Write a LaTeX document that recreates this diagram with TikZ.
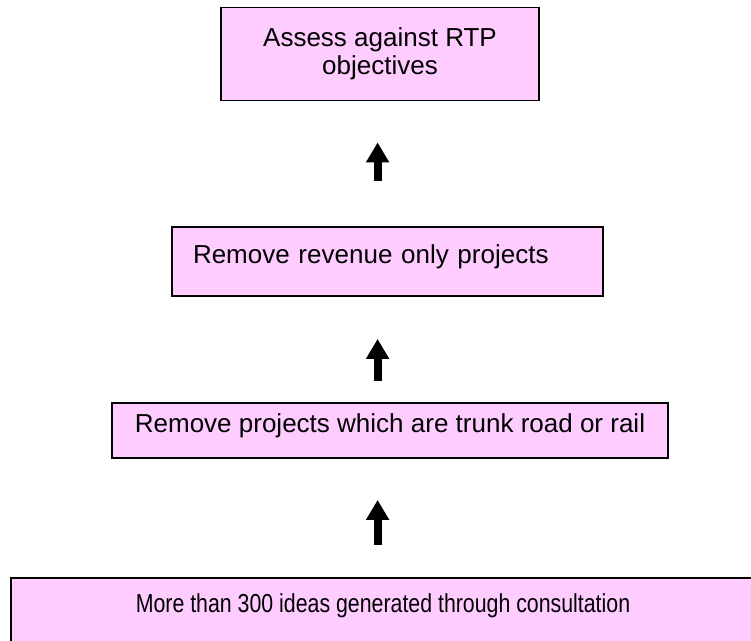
\documentclass[tikz,border=0pt]{standalone}
\usepackage{fontspec}
\setmainfont{Liberation Sans}
\newfontfamily\narrowsans{Liberation Sans}[FakeStretch=0.82]
\usetikzlibrary{arrows.meta, positioning}
\definecolor{boxpink}{RGB}{255,204,255}

\begin{document}
\begin{tikzpicture}[
  font=\fontsize{18.5}{20}\selectfont,
  box/.style={rectangle, draw=black, line width=1.3pt, fill=boxpink,
              inner sep=0pt, text centered},
  oneline/.style={box, text height=0.475cm, text depth=0.4cm},
  uparrow/.style={line width=0.2cm, -{Triangle[length=0.5cm, width=0.55cm]}},
]
\useasboundingbox (0,0) rectangle (18.775,-16);
\coordinate (spine) at (9.44,0);
\node[box, minimum width=7.95cm, minimum height=2.325cm, align=center]
  (assess) at (9.5,-1.35) {Assess against RTP\\objectives};
\node[oneline, text width=9.725cm, align=left, inner xsep=0.525cm,
      minimum height=1.725cm] (revenue) at (9.6875,-6.5375) {Remove revenue only projects};
\node[oneline, minimum width=13.9cm, minimum height=1.375cm]
  (trunk) at (9.75,-10.7625) {Remove projects which are trunk road or rail};
\node[oneline, minimum width=18.6cm, minimum height=1.65cm,
      font=\fontsize{18.5}{20}\narrowsans]
  (ideas) at (9.575,-15.275) {More than 300 ideas generated through consultation};
\draw[uparrow, shorten <=0.8cm, shorten >=1.025cm]
  (ideas.north -| spine) -- (trunk.south -| spine);
\draw[uparrow, shorten <=0.525cm, shorten >=1.05cm]
  (trunk.north -| spine) -- (revenue.south -| spine);
\draw[uparrow, shorten <=1.125cm, shorten >=1.025cm]
  (revenue.north -| spine) -- (assess.south -| spine);
\end{tikzpicture}
\end{document}
